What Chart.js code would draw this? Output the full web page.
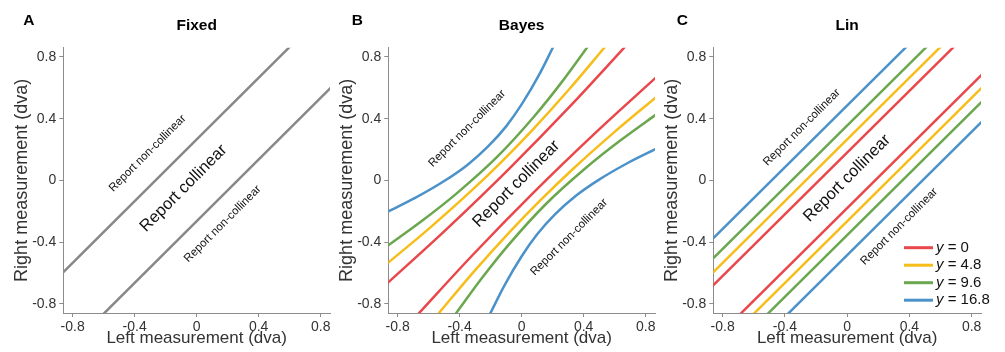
<!DOCTYPE html>
<html>
<head>
<meta charset="utf-8">
<script src="https://cdn.jsdelivr.net/npm/chart.js@4.4.1/dist/chart.umd.min.js"></script>
<style>
  body { margin: 0; background: #fff; }
  #wrap { position: relative; width: 1005px; height: 352px; }
  .panel { position: absolute; top: 0; }
</style>
</head>
<body>
<div id="wrap">
  <div class="panel" style="left:0px"><canvas id="fixed" width="335" height="352"></canvas></div>
  <div class="panel" style="left:325px"><canvas id="bayes" width="335" height="352"></canvas></div>
  <div class="panel" style="left:650px"><canvas id="lin" width="355" height="352"></canvas></div>
</div>
<script>
const FONT = '"Liberation Sans", Arial, Helvetica, sans-serif';

// axis ticks (dva)
const tickValues = [-0.8, -0.4, 0, 0.4, 0.8];

// noise levels shown in the legend
const levelLabels = ['0', '4.8', '9.6', '16.8'];
const levelColors = ['#e9474b', '#f6bd1b', '#6ba74e', '#4b92ca'];

// Fixed: one pair of boundaries, [left, right]
const fixedUpper = [[-0.87, -0.605], [0.605, 0.87]];
const fixedLower = [[-0.605, -0.87], [0.87, 0.605]];

// Bayes: boundaries per noise level
const bayesUpper0 = [[-0.875, -0.675], [-0.484, -0.316], [-0.078, 0.078], [0.316, 0.484], [0.675, 0.875]];
const bayesLower0 = [[-0.675, -0.875], [-0.316, -0.484], [0.078, -0.078], [0.484, 0.316], [0.875, 0.675]];
const bayesUpper48 = [[-0.869, -0.541], [-0.592, -0.308], [-0.329, -0.072], [-0.125, 0.125], [0.072, 0.329], [0.308, 0.592], [0.541, 0.869]];
const bayesLower48 = [[-0.541, -0.869], [-0.308, -0.592], [-0.072, -0.329], [0.125, -0.125], [0.329, 0.072], [0.592, 0.308], [0.869, 0.541]];
const bayesUpper96 = [[-0.865, -0.425], [-0.64, -0.261], [-0.417, -0.083], [-0.155, 0.155], [0.083, 0.417], [0.261, 0.64], [0.429, 0.871]];
const bayesLower96 = [[-0.425, -0.865], [-0.261, -0.64], [-0.083, -0.417], [0.155, -0.155], [0.417, 0.083], [0.64, 0.261], [0.871, 0.429]];
const bayesUpper168 = [[-0.866, -0.204], [-0.687, -0.114], [-0.497, -0.003], [-0.35, 0.1], [-0.218, 0.218], [-0.1, 0.35], [0.003, 0.497], [0.114, 0.687], [0.204, 0.866]];
const bayesLower168 = [[-0.204, -0.866], [-0.114, -0.687], [-0.003, -0.497], [0.1, -0.35], [0.218, -0.218], [0.35, -0.1], [0.497, 0.003], [0.687, 0.114], [0.866, 0.204]];

// Lin: straight boundaries per noise level
const linUpper0 = [[-0.87, -0.69], [0.69, 0.87]];
const linLower0 = [[-0.69, -0.87], [0.87, 0.69]];
const linUpper48 = [[-0.87, -0.605], [0.605, 0.87]];
const linLower48 = [[-0.605, -0.87], [0.87, 0.605]];
const linUpper96 = [[-0.87, -0.515], [0.515, 0.87]];
const linLower96 = [[-0.515, -0.87], [0.87, 0.515]];
const linUpper168 = [[-0.87, -0.385], [0.385, 0.87]];
const linLower168 = [[-0.385, -0.87], [0.87, 0.385]];

function curve(points, color, width) {
  return {
    data: points.map(([x, y]) => ({ x, y })),
    borderColor: color,
    borderWidth: width || 2.5,
    showLine: true,
    pointRadius: 0,
    cubicInterpolationMode: 'monotone',
    fill: false
  };
}

function fmt(v) {
  return v === 0 ? '0' : String(v);
}

function axis(title, isX) {
  return {
    type: 'linear',
    min: -0.86,
    max: 0.86,
    grid: { drawOnChartArea: false, drawTicks: true, tickLength: 4, color: '#8c8c8c' },
    border: { color: '#8c8c8c', width: 1 },
    ticks: { font: { family: FONT, size: 14 }, color: '#333', padding: isX ? 2 : 3, callback: v => fmt(v) },
    afterBuildTicks: s => { s.ticks = tickValues.map(v => ({ value: v })); },
    afterFit: s => { if (isX) s.height = 39; else s.width = 63.3; },
    title: {
      display: true,
      text: title,
      color: '#333',
      font: { family: FONT, size: isX ? 17 : 18 },
      padding: isX ? { top: 0, bottom: 3 } : { top: 11.7, bottom: 0 }
    }
  };
}

// panel letter, title, rotated region labels, optional legend
const panelText = {
  id: 'panelText',
  afterDraw(chart, args, opts) {
    const { ctx, chartArea: a } = chart;
    const xs = chart.scales.x, ys = chart.scales.y;
    ctx.save();
    ctx.fillStyle = '#000';
    ctx.textBaseline = 'middle';
    ctx.font = 'bold 15.5px ' + FONT;
    ctx.textAlign = 'left';
    ctx.fillText(opts.letter, a.left - opts.letterGap, 20.5);
    ctx.textAlign = 'center';
    ctx.fillText(opts.title, (a.left + a.right) / 2, 26);
    opts.notes.forEach(n => {
      ctx.save();
      ctx.translate(xs.getPixelForValue(n.x), ys.getPixelForValue(n.y));
      ctx.rotate(-Math.PI / 4);
      ctx.font = n.size + 'px ' + FONT;
      ctx.fillStyle = '#111';
      ctx.fillText(n.text, 0, 0);
      ctx.restore();
    });
    if (opts.legend) {
      levelLabels.forEach((lab, i) => {
        const yy = a.top + 200 + i * 17.5;
        ctx.strokeStyle = levelColors[i];
        ctx.lineWidth = 3;
        ctx.beginPath();
        ctx.moveTo(a.left + 190.7, yy);
        ctx.lineTo(a.left + 219.7, yy);
        ctx.stroke();
        ctx.textAlign = 'left';
        ctx.fillStyle = '#111';
        ctx.font = 'italic 15px ' + FONT;
        const x0 = a.left + 222.7;
        ctx.fillText('y', x0, yy);
        const w = ctx.measureText('y').width;
        ctx.font = '15px ' + FONT;
        ctx.fillText(' = ' + lab, x0 + w, yy);
      });
    }
    ctx.restore();
  }
};

function notes(up, mid, low) {
  return [
    { x: up[0], y: up[1], text: 'Report non-collinear', size: 11.5 },
    { x: mid[0], y: mid[1], text: 'Report collinear', size: 16.5 },
    { x: low[0], y: low[1], text: 'Report non-collinear', size: 11.5 }
  ];
}

function makeChart(id, datasets, text, padRight) {
  return new Chart(document.getElementById(id), {
    type: 'scatter',
    data: { datasets: datasets },
    options: {
      responsive: false,
      animation: false,
      events: [],
      layout: { padding: { top: 47.7, left: 0, right: padRight, bottom: 0 } },
      scales: {
        x: axis('Left measurement (dva)', true),
        y: axis('Right measurement (dva)', false)
      },
      plugins: {
        legend: { display: false },
        tooltip: { enabled: false },
        panelText: text
      }
    },
    plugins: [panelText]
  });
}

makeChart('fixed', [
  curve(fixedUpper, '#888888'),
  curve(fixedLower, '#888888')
], {
  letter: 'A', letterGap: 40, title: 'Fixed',
  notes: notes([-0.317, 0.175], [-0.084, -0.052], [0.168, -0.283])
}, 5);

makeChart('bayes', [
  curve(bayesUpper168, levelColors[3]), curve(bayesLower168, levelColors[3]),
  curve(bayesUpper96, levelColors[2]), curve(bayesLower96, levelColors[2]),
  curve(bayesUpper48, levelColors[1]), curve(bayesLower48, levelColors[1]),
  curve(bayesUpper0, levelColors[0]), curve(bayesLower0, levelColors[0])
], {
  letter: 'B', letterGap: 36.6, title: 'Bayes',
  notes: notes([-0.352, 0.336], [-0.034, -0.024], [0.306, -0.369])
}, 5);

makeChart('lin', [
  curve(linUpper168, levelColors[3]), curve(linLower168, levelColors[3]),
  curve(linUpper96, levelColors[2]), curve(linLower96, levelColors[2]),
  curve(linUpper48, levelColors[1]), curve(linLower48, levelColors[1]),
  curve(linUpper0, levelColors[0]), curve(linLower0, levelColors[0])
], {
  letter: 'C', letterGap: 36.6, title: 'Lin',
  notes: notes([-0.291, 0.343], [0, 0.013], [0.334, -0.30]),
  legend: true
}, 24);
</script>
</body>
</html>
